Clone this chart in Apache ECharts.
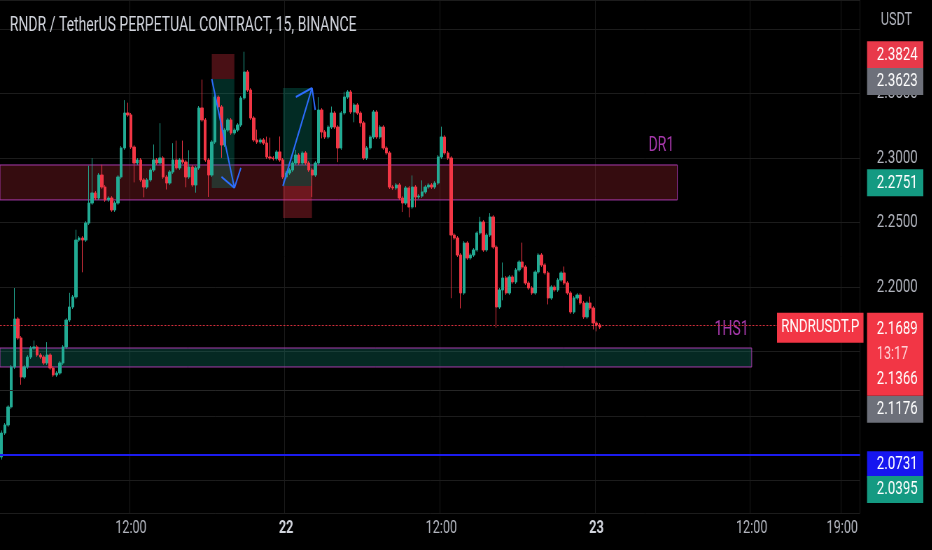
<!DOCTYPE html>
<html><head><meta charset="utf-8">
<script src="https://cdn.jsdelivr.net/npm/echarts@6/dist/echarts.min.js"></script>
<style>
html,body{margin:0;padding:0;background:#000;overflow:hidden;width:932px;height:550px;}
#c{width:1332px;height:550px;transform:scaleX(0.7);transform-origin:0 0;}
</style></head><body><div id="c"></div>
<script>
// ---- data ----
const titleText = 'RNDR / TetherUS PERPETUAL CONTRACT, 15, BINANCE';
const startDay = 21, startMinute = 120, barMinutes = 15, slotCount = 266;
const firstOpen = 2.0682;
const closes = [
 2.0868,2.0930,2.1070,2.1380,2.1752,2.1605,2.1302,2.1380,2.1457,2.1527,
 2.1535,2.1473,2.1457,2.1411,2.1473,2.1372,2.1318,2.1333,2.1411,2.1535,
 2.1744,2.1845,2.1923,2.2364,2.2380,2.2364,2.2496,2.2651,2.2729,2.2690,
 2.2868,2.2775,2.2675,2.2690,2.2597,2.2651,2.2853,2.3078,2.3349,2.3334,
 2.3085,2.2961,2.2985,2.2830,2.2775,2.2830,2.2907,2.2985,2.2961,2.3000,
 2.2853,2.2806,2.2892,2.2985,2.2923,2.2985,2.2969,2.2853,2.2930,2.2791,
 2.2923,2.3388,2.3295,2.2985,2.2868,2.3124,2.3473,2.3396,2.3101,2.3217,
 2.3295,2.3194,2.3217,2.3256,2.3465,2.3667,2.3527,2.3310,2.3140,2.3124,
 2.3140,2.3116,2.3008,2.3000,2.2995,2.3047,2.2985,2.2853,2.2884,2.2907,
 2.2961,2.3023,2.2961,2.3039,2.2961,2.2907,2.2868,2.2961,2.3372,2.3202,
 2.3163,2.3240,2.3349,2.3240,2.3078,2.3349,2.3473,2.3512,2.3357,2.3411,
 2.3349,2.3272,2.3000,2.3078,2.3163,2.3357,2.3163,2.3240,2.3078,2.3039,
 2.2775,2.2768,2.2791,2.2690,2.2651,2.2768,2.2620,2.2775,2.2698,2.2705,
 2.2737,2.2775,2.2791,2.2775,2.2806,2.3008,2.3163,2.3039,2.3000,2.2403,
 2.2380,2.2248,2.1954,2.2341,2.2225,2.2248,2.2287,2.2419,2.2504,2.2287,
 2.2403,2.2543,2.2310,2.1845,2.1977,2.2070,2.1954,2.2078,2.2039,2.2132,
 2.2194,2.2155,2.2031,2.1992,2.1954,2.2116,2.2248,2.2171,2.2109,2.1915,
 2.2000,2.1977,2.2054,2.2109,2.2031,2.1954,2.1806,2.1915,2.1938,2.1876,
 2.1768,2.1876,2.1837,2.1721,2.1706,2.1689
];
const upperWicks = [
 0.002,0.0015,0.0015,0.0015,0.024,0.0015,0.0015,0.0015,0.0015,0.0015,
 0.005,0.0015,0.0015,0.0015,0.010,0.0015,0.0015,0.0015,0.0015,0.0015,
 0.0015,0.011,0.0015,0.008,0.0015,0.0015,0.0015,0.029,0.027,0.0015,
 0.0015,0.008,0.0015,0.0015,0.0015,0.0015,0.0015,0.0015,0.010,0.008,
 0.0015,0.0015,0.0015,0.0015,0.0015,0.0015,0.0015,0.012,0.0015,0.027,
 0.0015,0.0015,0.0015,0.013,0.015,0.0015,0.015,0.0015,0.013,0.0015,
 0.0015,0.0015,0.022,0.0015,0.0015,0.0015,0.0015,0.0015,0.0015,0.0015,
 0.0015,0.0015,0.0015,0.0015,0.0015,0.0157,0.0015,0.0015,0.0015,0.008,
 0.0015,0.0015,0.005,0.015,0.0015,0.0015,0.012,0.0015,0.0015,0.0015,
 0.0015,0.004,0.0015,0.0015,0.0015,0.0015,0.0015,0.0015,0.010,0.0015,
 0.0015,0.0015,0.005,0.0015,0.0015,0.0015,0.004,0.0015,0.0015,0.0015,
 0.0015,0.0015,0.0015,0.0015,0.0015,0.0015,0.0015,0.0015,0.0015,0.0015,
 0.0015,0.0015,0.0015,0.0015,0.0015,0.0015,0.0015,0.009,0.0015,0.0015,
 0.009,0.0015,0.0015,0.0015,0.0015,0.0015,0.008,0.0015,0.0015,0.0015,
 0.0015,0.0015,0.0015,0.0015,0.0015,0.0015,0.0015,0.0015,0.004,0.0015,
 0.0015,0.003,0.0015,0.0015,0.0015,0.012,0.0015,0.0015,0.0015,0.0015,
 0.0015,0.015,0.0015,0.0015,0.0015,0.0015,0.0015,0.0015,0.0015,0.0015,
 0.0015,0.0015,0.0015,0.0015,0.005,0.0015,0.0015,0.0015,0.0015,0.0015,
 0.0015,0.0015,0.005,0.0015,0.0015,0.0015
];
const lowerWicks = [
 0.002,0.0015,0.0015,0.0015,0.0015,0.0015,0.006,0.0015,0.0015,0.0015,
 0.0015,0.0015,0.0015,0.0015,0.0015,0.0015,0.0015,0.0015,0.0015,0.0015,
 0.0015,0.0015,0.0015,0.0015,0.0015,0.025,0.0015,0.0015,0.0015,0.0015,
 0.0015,0.0015,0.0015,0.0015,0.0015,0.0015,0.0015,0.0015,0.0015,0.0015,
 0.0015,0.015,0.0015,0.0015,0.008,0.0015,0.0015,0.0015,0.0015,0.0015,
 0.0015,0.005,0.0015,0.0015,0.0015,0.0015,0.0015,0.008,0.0015,0.0015,
 0.006,0.0015,0.0015,0.0015,0.017,0.0015,0.0015,0.0015,0.010,0.0015,
 0.0015,0.0015,0.0015,0.0015,0.0015,0.0015,0.0015,0.0015,0.0015,0.0015,
 0.0015,0.0015,0.0015,0.0015,0.0015,0.0015,0.0015,0.0015,0.0015,0.0015,
 0.0015,0.0015,0.0015,0.0015,0.0015,0.0015,0.017,0.0015,0.0015,0.005,
 0.0015,0.0015,0.0015,0.0015,0.011,0.0015,0.0015,0.0015,0.0015,0.008,
 0.0015,0.003,0.0015,0.0015,0.0015,0.0015,0.0015,0.0015,0.0015,0.0015,
 0.0015,0.0015,0.0015,0.0015,0.007,0.0015,0.008,0.0015,0.008,0.0015,
 0.0015,0.0015,0.0015,0.0015,0.0015,0.0015,0.0015,0.0015,0.0015,0.049,
 0.0015,0.0015,0.012,0.0015,0.0015,0.0015,0.0015,0.0015,0.0015,0.0015,
 0.0015,0.0015,0.0015,0.016,0.0015,0.008,0.0015,0.0015,0.0015,0.0015,
 0.0015,0.0015,0.0015,0.0015,0.0015,0.0015,0.0015,0.0015,0.0015,0.005,
 0.0015,0.0015,0.0015,0.0015,0.0015,0.0015,0.0015,0.0015,0.0015,0.0015,
 0.0015,0.0015,0.0015,0.005,0.005,0.0015
];
const xTickTimes  = ['21 12:00','22 00:00','22 12:00','23 00:00','23 12:00','23 19:00'];
const xTickLabels = ['12:00','22','12:00','23','12:00','19:00'];
const xTickIsDay  = [false,true,false,true,false,false];
const yMin = 2.0248, yMax = 2.4225;

const dr1Zone = [2.2675, 2.2946], dr1End = '23 06:15', dr1Name = 'DR1';
const hs1Zone = [2.1380, 2.1527], hs1End = '23 12:00', hs1Name = '1HS1';
const shortTool = {from:'21 18:15', to:'21 20:00', stop:2.3806, entry:2.3613, target:2.2768};
const longTool  = {from:'21 23:45', to:'22 02:00', target:2.3543, entry:2.2783, stop:2.2535};
const arrowSegments = [
 [['21 18:15',2.3613],['21 20:00',2.2768]],
 [['21 19:00',2.2853],['21 20:00',2.2768]],
 [['21 20:30',2.2923],['21 20:00',2.2768]],
 [['21 23:45',2.2783],['22 02:00',2.3543]],
 [['22 00:45',2.3473],['22 02:00',2.3543]],
 [['22 02:15',2.3372],['22 02:00',2.3543]]
];
const symbolName = 'RNDRUSDT.P';
const lastPrice = 2.1689, countdown = '13:17', secondPrice = 2.1366;
const highTag = 2.3824, grayTag = 2.3623, greenTag = 2.2751;
const hLine1 = 2.1176, hLine2 = 2.0731, lowTag = 2.0395;
const blueLevel = 2.066;

// ---- build ----
const categories = [];
for (let i = 0; i < slotCount; i++) {
  const m = startMinute + i * barMinutes;
  const d = startDay + Math.floor(m / 1440);
  const mm = m % 1440;
  categories.push(d + ' ' + String(Math.floor(mm / 60)).padStart(2, '0') + ':' + String(mm % 60).padStart(2, '0'));
}
const ohlc = closes.map((c, i) => {
  const o = i === 0 ? firstOpen : closes[i - 1];
  return [o, c, +(Math.min(o, c) - lowerWicks[i]).toFixed(4), +(Math.max(o, c) + upperWicks[i]).toFixed(4)];
});

const UP = '#22ab94', DOWN = '#f23645', PURPLE = '#a83aad';
const FONT = 'Roboto';
const HIDDEN_LINE = {color: 'rgba(0,0,0,0)', width: 0.01, type: 'solid'};
function tag(value, text, bg, dy, lineStyle, dx) {
  return {
    yAxis: value,
    lineStyle: lineStyle || HIDDEN_LINE,
    label: {
      show: true, position: 'end', distance: 10,
      formatter: () => text,
      backgroundColor: bg, color: '#ffffff', fontFamily: FONT, fontSize: 19, lineHeight: 19,
      padding: [4, 8, 4, 14], offset: [dx || 0, dy]
    }
  };
}
const markLineData = [
  tag(highTag, highTag.toFixed(4), '#e8394a', 0),
  tag(grayTag, grayTag.toFixed(4), '#6d707a', 1),
  tag(greenTag, greenTag.toFixed(4), '#149a82', -1),
  tag(hLine1, hLine1.toFixed(4), '#6d707a', 19, {color: '#262626', width: 1, type: 'solid'}),
  tag(hLine2, hLine2.toFixed(4), '#1616f0', 10, {color: '#262626', width: 1, type: 'solid'}),
  tag(lowTag, lowTag.toFixed(4), '#149a82', -4),
  {yAxis: blueLevel, lineStyle: {color: '#1b1bef', width: 2, type: 'solid'}, label: {show: false}},
  {
    yAxis: lastPrice, lineStyle: {color: DOWN, width: 1, type: 'dotted'},
    label: {
      show: true, position: 'end', distance: 10,
      formatter: () => '{p|' + lastPrice.toFixed(4) + '}\n{t|' + countdown + '}\n{p|' + secondPrice.toFixed(4) + '}',
      backgroundColor: '#f23645', padding: [4, 8, 4, 14], offset: [0, 28.5],
      rich: {
        p: {color: '#ffffff', fontFamily: FONT, fontSize: 19, lineHeight: 25},
        t: {color: '#ffd3d7', fontFamily: FONT, fontSize: 18, lineHeight: 25}
      }
    }
  },
  {
    yAxis: lastPrice, lineStyle: HIDDEN_LINE,
    label: {
      show: true, position: 'end', distance: 10, formatter: () => symbolName,
      backgroundColor: '#f23645', color: '#ffffff', fontFamily: FONT, fontSize: 19, lineHeight: 22,
      padding: [4, 6, 4, 6], offset: [-128.6, 2]
    }
  }
];
arrowSegments.forEach(seg => {
  markLineData.push([
    {coord: seg[0], lineStyle: {color: '#2d6eff', width: 2, type: 'solid'}, label: {show: false}},
    {coord: seg[1]}
  ]);
});

function zone(range, end, name) {
  return [
    {yAxis: range[1], itemStyle: {color: 'rgba(242,54,69,0.22)', borderColor: PURPLE, borderWidth: 1},
     label: {show: true, position: 'insideTopRight', offset: [0, -33], color: PURPLE, fontFamily: FONT, fontSize: 20, formatter: () => name}},
    {xAxis: end, yAxis: range[0]}
  ];
}
const dr1 = zone(dr1Zone, dr1End, dr1Name);
const hs1 = zone(hs1Zone, hs1End, hs1Name);
hs1[0].itemStyle.color = 'rgba(20,160,135,0.26)';

function box(from, to, y1, y2, color) {
  return [{xAxis: from, yAxis: y1, itemStyle: {color: color, borderWidth: 0}, label: {show: false}}, {xAxis: to, yAxis: y2}];
}
const markAreaData = [
  dr1, hs1,
  box(shortTool.from, shortTool.to, shortTool.stop, shortTool.entry, 'rgba(242,54,69,0.30)'),
  box(shortTool.from, shortTool.to, shortTool.entry, shortTool.target, 'rgba(8,153,129,0.28)'),
  box(longTool.from, longTool.to, longTool.target, longTool.entry, 'rgba(8,153,129,0.28)'),
  box(longTool.from, longTool.to, longTool.entry, longTool.stop, 'rgba(242,54,69,0.30)')
];

const tickIdx = v => xTickTimes.indexOf(v);
const chart = echarts.init(document.getElementById('c'));
chart.setOption({
  backgroundColor: '#000000',
  animation: false,
  title: [
    {text: titleText, left: 14, top: 16, padding: 0, textStyle: {color: '#d1d4dc', fontSize: 20, fontWeight: 'normal', fontFamily: FONT}},
    {text: 'USDT', right: 29, top: 11, padding: 0, textStyle: {color: '#b2b5be', fontSize: 18, fontWeight: 'normal', fontFamily: FONT}}
  ],
  grid: {left: 0, right: 103.4, top: 0, bottom: 37},
  xAxis: {
    type: 'category', data: categories, boundaryGap: true,
    axisLine: {show: false}, axisTick: {show: false},
    axisLabel: {
      interval: (i, v) => tickIdx(v) >= 0,
      formatter: v => { const k = tickIdx(v); if (k < 0) return ''; return xTickIsDay[k] ? '{d|' + xTickLabels[k] + '}' : xTickLabels[k]; },
      color: '#b2b5be', fontFamily: FONT, fontSize: 18, margin: 6,
      rich: {d: {color: '#d1d4dc', fontFamily: FONT, fontSize: 18, fontWeight: 'bold'}}
    },
    splitLine: {show: true, interval: (i, v) => tickIdx(v) >= 0, lineStyle: {color: '#1c1c1c', width: 1}}
  },
  yAxis: {
    type: 'value', position: 'right', min: yMin, max: yMax, splitNumber: 8, scale: true,
    axisLine: {show: false}, axisTick: {show: false},
    axisLabel: {showMinLabel: false, showMaxLabel: false, margin: 24, color: '#b2b5be', fontFamily: FONT, fontSize: 19,
      formatter: v => v > 2.39 ? '' : v.toFixed(4)},
    splitLine: {lineStyle: {color: '#1c1c1c', width: 1}}
  },
  series: [{
    type: 'candlestick',
    data: ohlc,
    barWidth: '84%',
    itemStyle: {color: UP, color0: DOWN, borderColor: UP, borderColor0: DOWN, borderWidth: 1},
    markArea: {silent: true, data: markAreaData},
    markLine: {silent: true, symbol: ['none', 'none'], animation: false, label: {show: false}, data: markLineData}
  }]
});
</script></body></html>
